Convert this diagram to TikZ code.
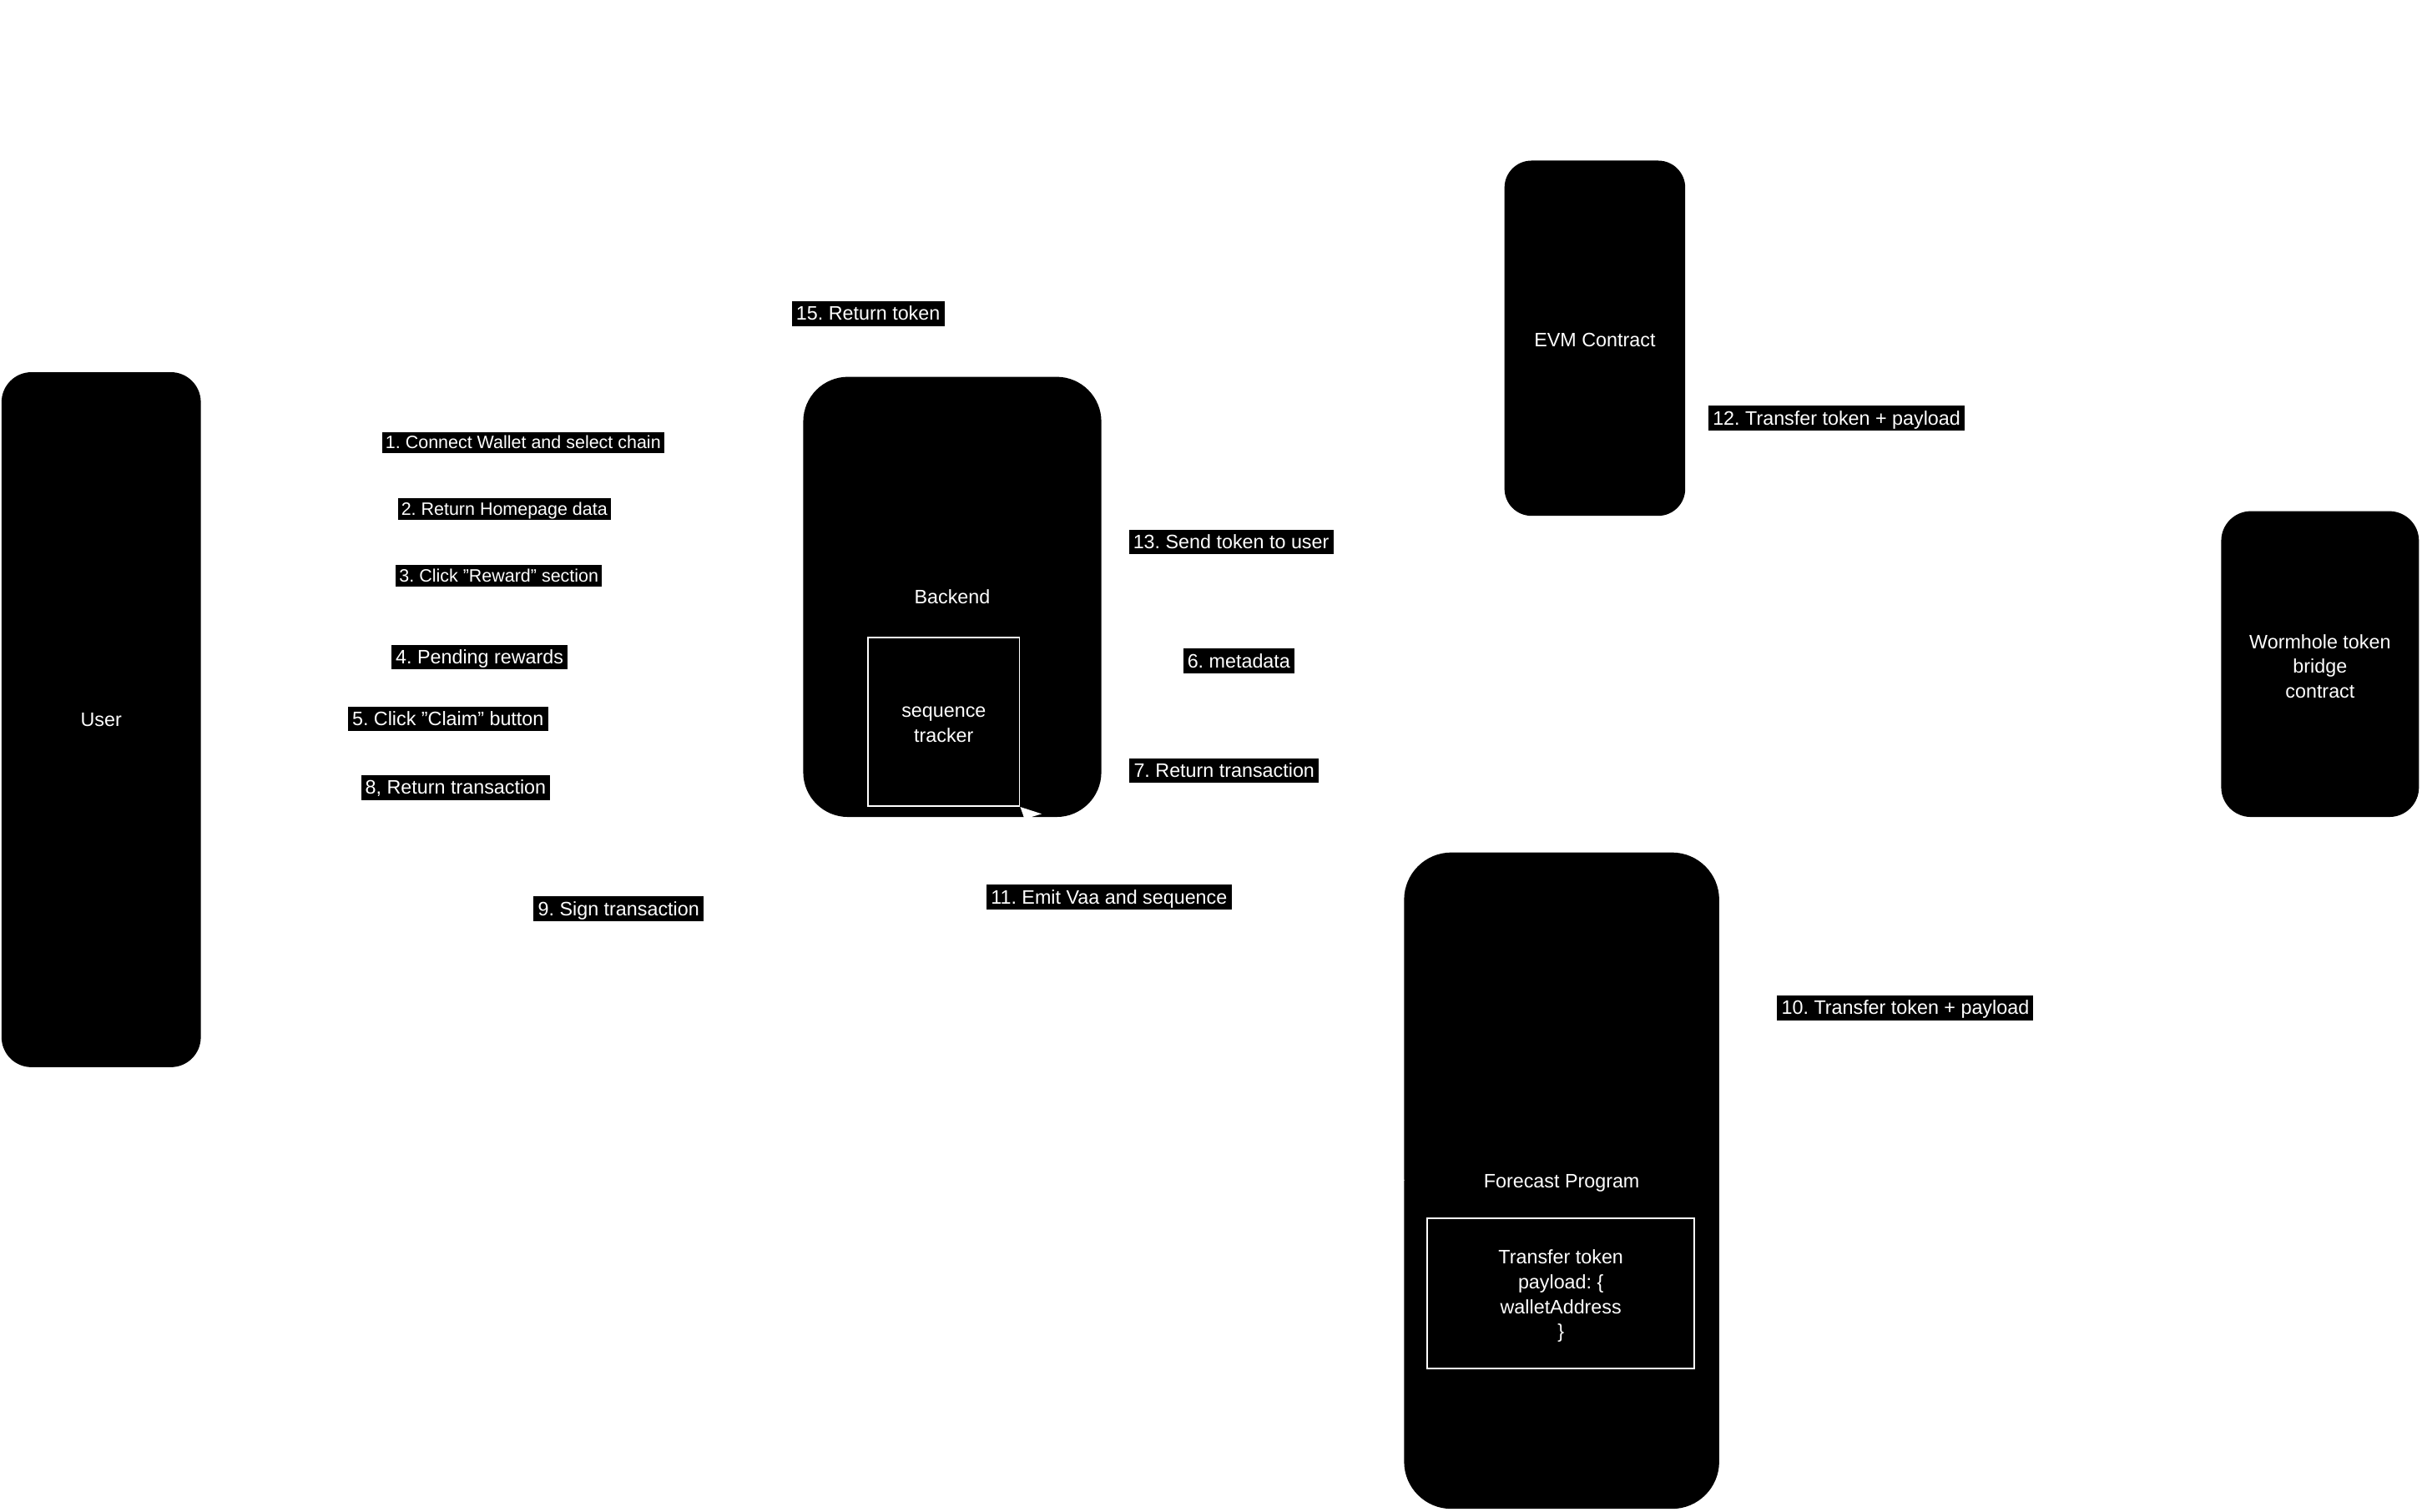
\documentclass[tikz,border=0pt]{standalone}
\usepackage{fontspec}
\setmainfont{Liberation Sans}
\usetikzlibrary{arrows.meta}
\pgfdeclarelayer{background}
\pgfsetlayers{background,main}
\frenchspacing
\begin{document}
\begin{tikzpicture}[x=1pt,y=-1pt,
  box/.style={fill=black, draw=none, text=white, rounded corners=#1, inner sep=0pt,
    align=center, font=\fontsize{12.6}{16}\selectfont},
  innerbox/.style={fill=black, draw=white, line width=1pt, text=white, inner sep=0pt,
    align=center, font=\fontsize{12.6}{16}\selectfont},
  boxtxt/.style={text=white, inner sep=0pt, align=center, font=\fontsize{12.6}{16}\selectfont},
  lbl/.style={fill=black, text=white, inner xsep=2.8pt, inner ysep=1pt,
    font=\fontsize{12.6}{15}\selectfont, text height=11.4pt, text depth=2.67pt},
  slbl/.style={fill=black, text=white, inner xsep=2.3pt, inner ysep=0.5pt,
    font=\fontsize{11.6}{14}\selectfont, text height=10.5pt, text depth=2.46pt},
  link/.style={draw=white, line width=1pt, -{Stealth[length=13pt,width=12.8pt,inset=3.5pt]}},
]
\begin{pgfonlayer}{background}
  \fill[white] (0,0) rectangle (1568,979);
\end{pgfonlayer}
\useasboundingbox (0,0) rectangle (1568,979);

% main boxes
\node[box=19.4pt, minimum width=129pt, minimum height=450pt] (user) at (65.5,466) {User};
\node[box=29pt, minimum width=193pt, minimum height=285pt] (backend) at (616.5,386.5) {Backend};
\node[box=17.5pt, minimum width=117pt, minimum height=230pt,
  label={[boxtxt, yshift=-1pt]center:EVM Contract}] (evm) at (1032.5,219) {};
\node[box=19.2pt, minimum width=128pt, minimum height=198pt,
  label={[boxtxt, yshift=-1.5pt]center:{Wormhole token\\bridge\\contract}}] (wormhole) at (1502,430) {};
\node[box=30.6pt, minimum width=204pt, minimum height=425pt,
  label={[boxtxt, yshift=-1.8pt]center:Forecast Program}] (forecast) at (1011,764.5) {};

% inner boxes
\node[innerbox, minimum width=98pt, minimum height=109pt,
  label={[boxtxt, yshift=-1.8pt]center:{sequence\\tracker}}] (tracker) at (611,467.5) {};
\node[innerbox, minimum width=173pt, minimum height=97pt,
  label={[boxtxt, yshift=-1.8pt]center:{Transfer token\\payload: \{\\walletAddress\\\}}}] (payload) at (1010.5,837.5) {};

% visible connector (11)
\draw[link] (forecast.west) -- (tracker.south east);

% labels
\node[lbl] (l15) at (562,203) {15. Return token};
\node[slbl] (l1) at (338.7,286.6) {1. Connect Wallet and select chain};
\node[slbl] (l2) at (326.5,329.5) {2. Return Homepage data};
\node[slbl] (l3) at (323,373) {3. Click "Reward" section};
\node[lbl] (l4) at (310.5,425.5) {4. Pending rewards};
\node[lbl] (l5) at (290,465.5) {5. Click "Claim" button};
\node[lbl] (l8) at (295,510) {8, Return transaction};
\node[lbl] (l9) at (400.5,588.5) {9. Sign transaction};
\node[lbl] (l11) at (718,581) {11. Emit Vaa and sequence};
\node[lbl] (l13) at (797,351) {13. Send token to user};
\node[lbl] (l6) at (802,428) {6. metadata};
\node[lbl] (l7) at (792.5,499) {7. Return transaction};
\node[lbl] (l12) at (1189,270.7) {12. Transfer token + payload};
\node[lbl] (l10) at (1233.5,652.5) {10. Transfer token + payload};

% white connectors (invisible on the white page)
\begin{pgfonlayer}{background}
  \draw[link] (user.east |- l1) -- (l1) -- (backend.west |- l1);
  \draw[link] (backend.west |- l2) -- (l2) -- (user.east |- l2);
  \draw[link] (user.east |- l3) -- (l3) -- (backend.west |- l3);
  \draw[link] (backend.west |- l4) -- (l4) -- (user.east |- l4);
  \draw[link] (user.east |- l5) -- (l5) -- (backend.west |- l5);
  \draw[link] (backend.east |- l6) -- (l6) -| (forecast.north);
  \draw[link] ([xshift=-40pt]forecast.north) |- (l7) -- (backend.east |- l7);
  \draw[link] (backend.west |- l8) -- (l8) -- (user.east |- l8);
  \draw[link] (user.east |- l9) -- (l9) -- (forecast.west |- l9);
  \draw[link] (forecast.east |- l10) -- (l10) -| (wormhole.south);
  \draw[link] (wormhole.north) |- (l12) -- (evm.east |- l12);
  \draw[link] (evm.south) |- (l13) -- (backend.east);
  \draw[link] (evm.west |- l15) -- (l15) -| (user.north);
\end{pgfonlayer}
\end{tikzpicture}
\end{document}
